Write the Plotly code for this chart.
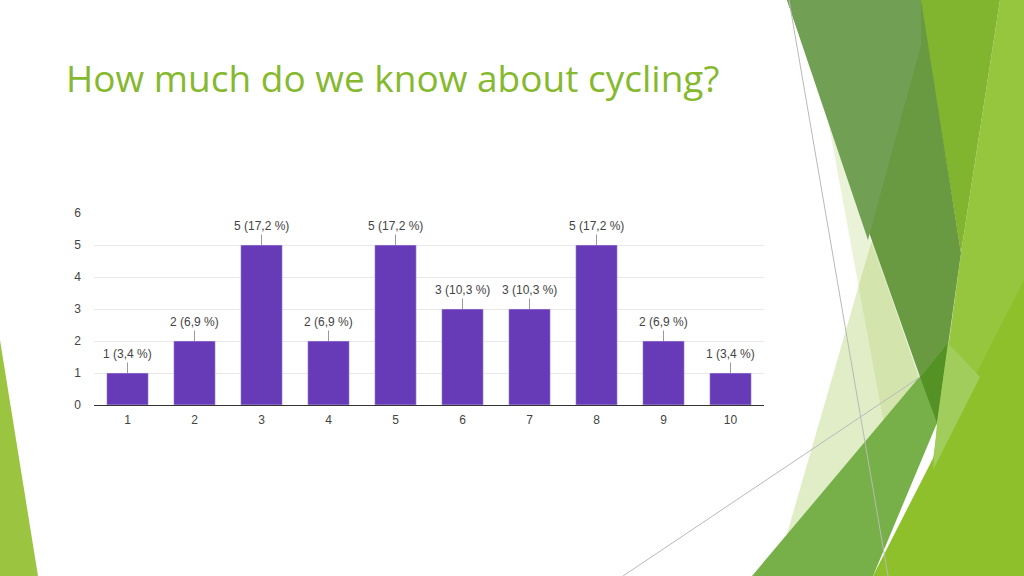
import plotly.graph_objects as go

# survey answers: score 1..10 and how many people picked it
notes = ["1", "2", "3", "4", "5", "6", "7", "8", "9", "10"]
reponses = [1, 2, 5, 2, 5, 3, 3, 5, 2, 1]
ticks_y = [0, 1, 2, 3, 4, 5, 6]

total = sum(reponses)
etiquettes = [f"{n} ({n / total * 100:.1f} %)".replace(".", ",") for n in reponses]

W, H = 1024, 576


def chemin(points):
    # pixel coords (from top-left) -> paper path
    morceaux = []
    for i, (x, y) in enumerate(points):
        morceaux.append(("M" if i == 0 else "L") + f"{x / W:.5f},{(H - y) / H:.5f}")
    return " ".join(morceaux) + " Z"


# decorative slide background (Facet-like green facets)
facettes = [
    ([(1000, 0), (1024, 0), (1024, 576), (900, 576), (933, 460), (961, 253)], "rgb(150,198,62)"),
    ([(873, 576), (1024, 576), (1024, 280)], "rgb(141,192,42)"),
    ([(920, 0), (1000, 0), (961, 253)], "rgb(129,181,47)"),
    ([(829, 125), (937, 425), (885, 430)], "rgba(170,205,100,0.25)"),
    ([(872, 240), (930, 410), (778, 565)], "rgba(170,205,100,0.37)"),
    ([(787, 0), (921, 0), (961, 253), (937, 425)], "rgb(105,153,65)"),
    ([(787, 0), (921, 0), (921, 45), (868, 240)], "rgb(113,160,84)"),
    ([(752, 576), (948, 343), (937, 423), (873, 576)], "rgb(119,176,73)"),
    ([(920, 377), (948, 343), (937, 423)], "rgb(84,146,38)"),
    ([(948, 343), (980, 377), (933, 470), (937, 423)], "rgb(160,205,92)"),
    ([(0, 340), (38, 576), (0, 576)], "rgb(155,196,65)"),
]

formes = []
for pts, couleur in facettes:
    formes.append(dict(type="path", xref="paper", yref="paper", path=chemin(pts),
                       fillcolor=couleur, line=dict(width=0), layer="below"))

for (x0, y0), (x1, y1) in [((789, 0), (888, 576)), ((623, 576), (920, 377))]:
    formes.append(dict(type="line", xref="paper", yref="paper",
                       x0=x0 / W, y0=(H - y0) / H, x1=x1 / W, y1=(H - y1) / H,
                       line=dict(color="rgb(185,185,185)", width=1), layer="below"))

fig = go.Figure(go.Bar(x=notes, y=reponses, marker_color="#673ab7", width=0.62,
                       hoverinfo="skip"))

police = "Liberation Sans, Arial"

# labels above bars, with a small leader line (category index as x position)
annotations = [dict(x=i, y=v, text=t, showarrow=True, arrowhead=0, ax=0, ay=-19,
                    arrowcolor="#999999", arrowwidth=1,
                    font=dict(family=police, size=12, color="#444444"))
               for i, (v, t) in enumerate(zip(reponses, etiquettes))]

annotations.append(dict(x=64 / W, y=(H - 77) / H, xref="paper", yref="paper",
                        xanchor="left", yanchor="middle", showarrow=False,
                        text="How much do we know about cycling?",
                        font=dict(family="Open Sans", size=37, color="#86b92f")))

fig.update_layout(
    width=W, height=H,
    margin=dict(l=0, r=0, t=0, b=0, pad=0, autoexpand=False),
    paper_bgcolor="white", plot_bgcolor="white",
    showlegend=False,
    shapes=formes,
    annotations=annotations,
    xaxis=dict(domain=[94 / W, 764 / W], type="category",
               showline=True, linecolor="#333333", linewidth=1,
               ticks="", ticklabelstandoff=4,
               tickfont=dict(family=police, size=12, color="#444444"),
               fixedrange=True),
    yaxis=dict(domain=[(H - 405) / H, (H - 213) / H], range=[0, 6],
               tickvals=ticks_y, showgrid=True, gridcolor="#e8e8e8", zeroline=False,
               ticks="", ticklabelstandoff=12,
               tickfont=dict(family=police, size=12, color="#444444"),
               fixedrange=True),
)

fig.write_html(
    "out.html",
    config={"displayModeBar": False},
    post_script="document.body.style.margin='0';"
                "var d=document.getElementById('{plot_id}');"
                "d.parentElement.style.position='absolute';"
                "d.parentElement.style.top='0';d.parentElement.style.left='0';",
)
